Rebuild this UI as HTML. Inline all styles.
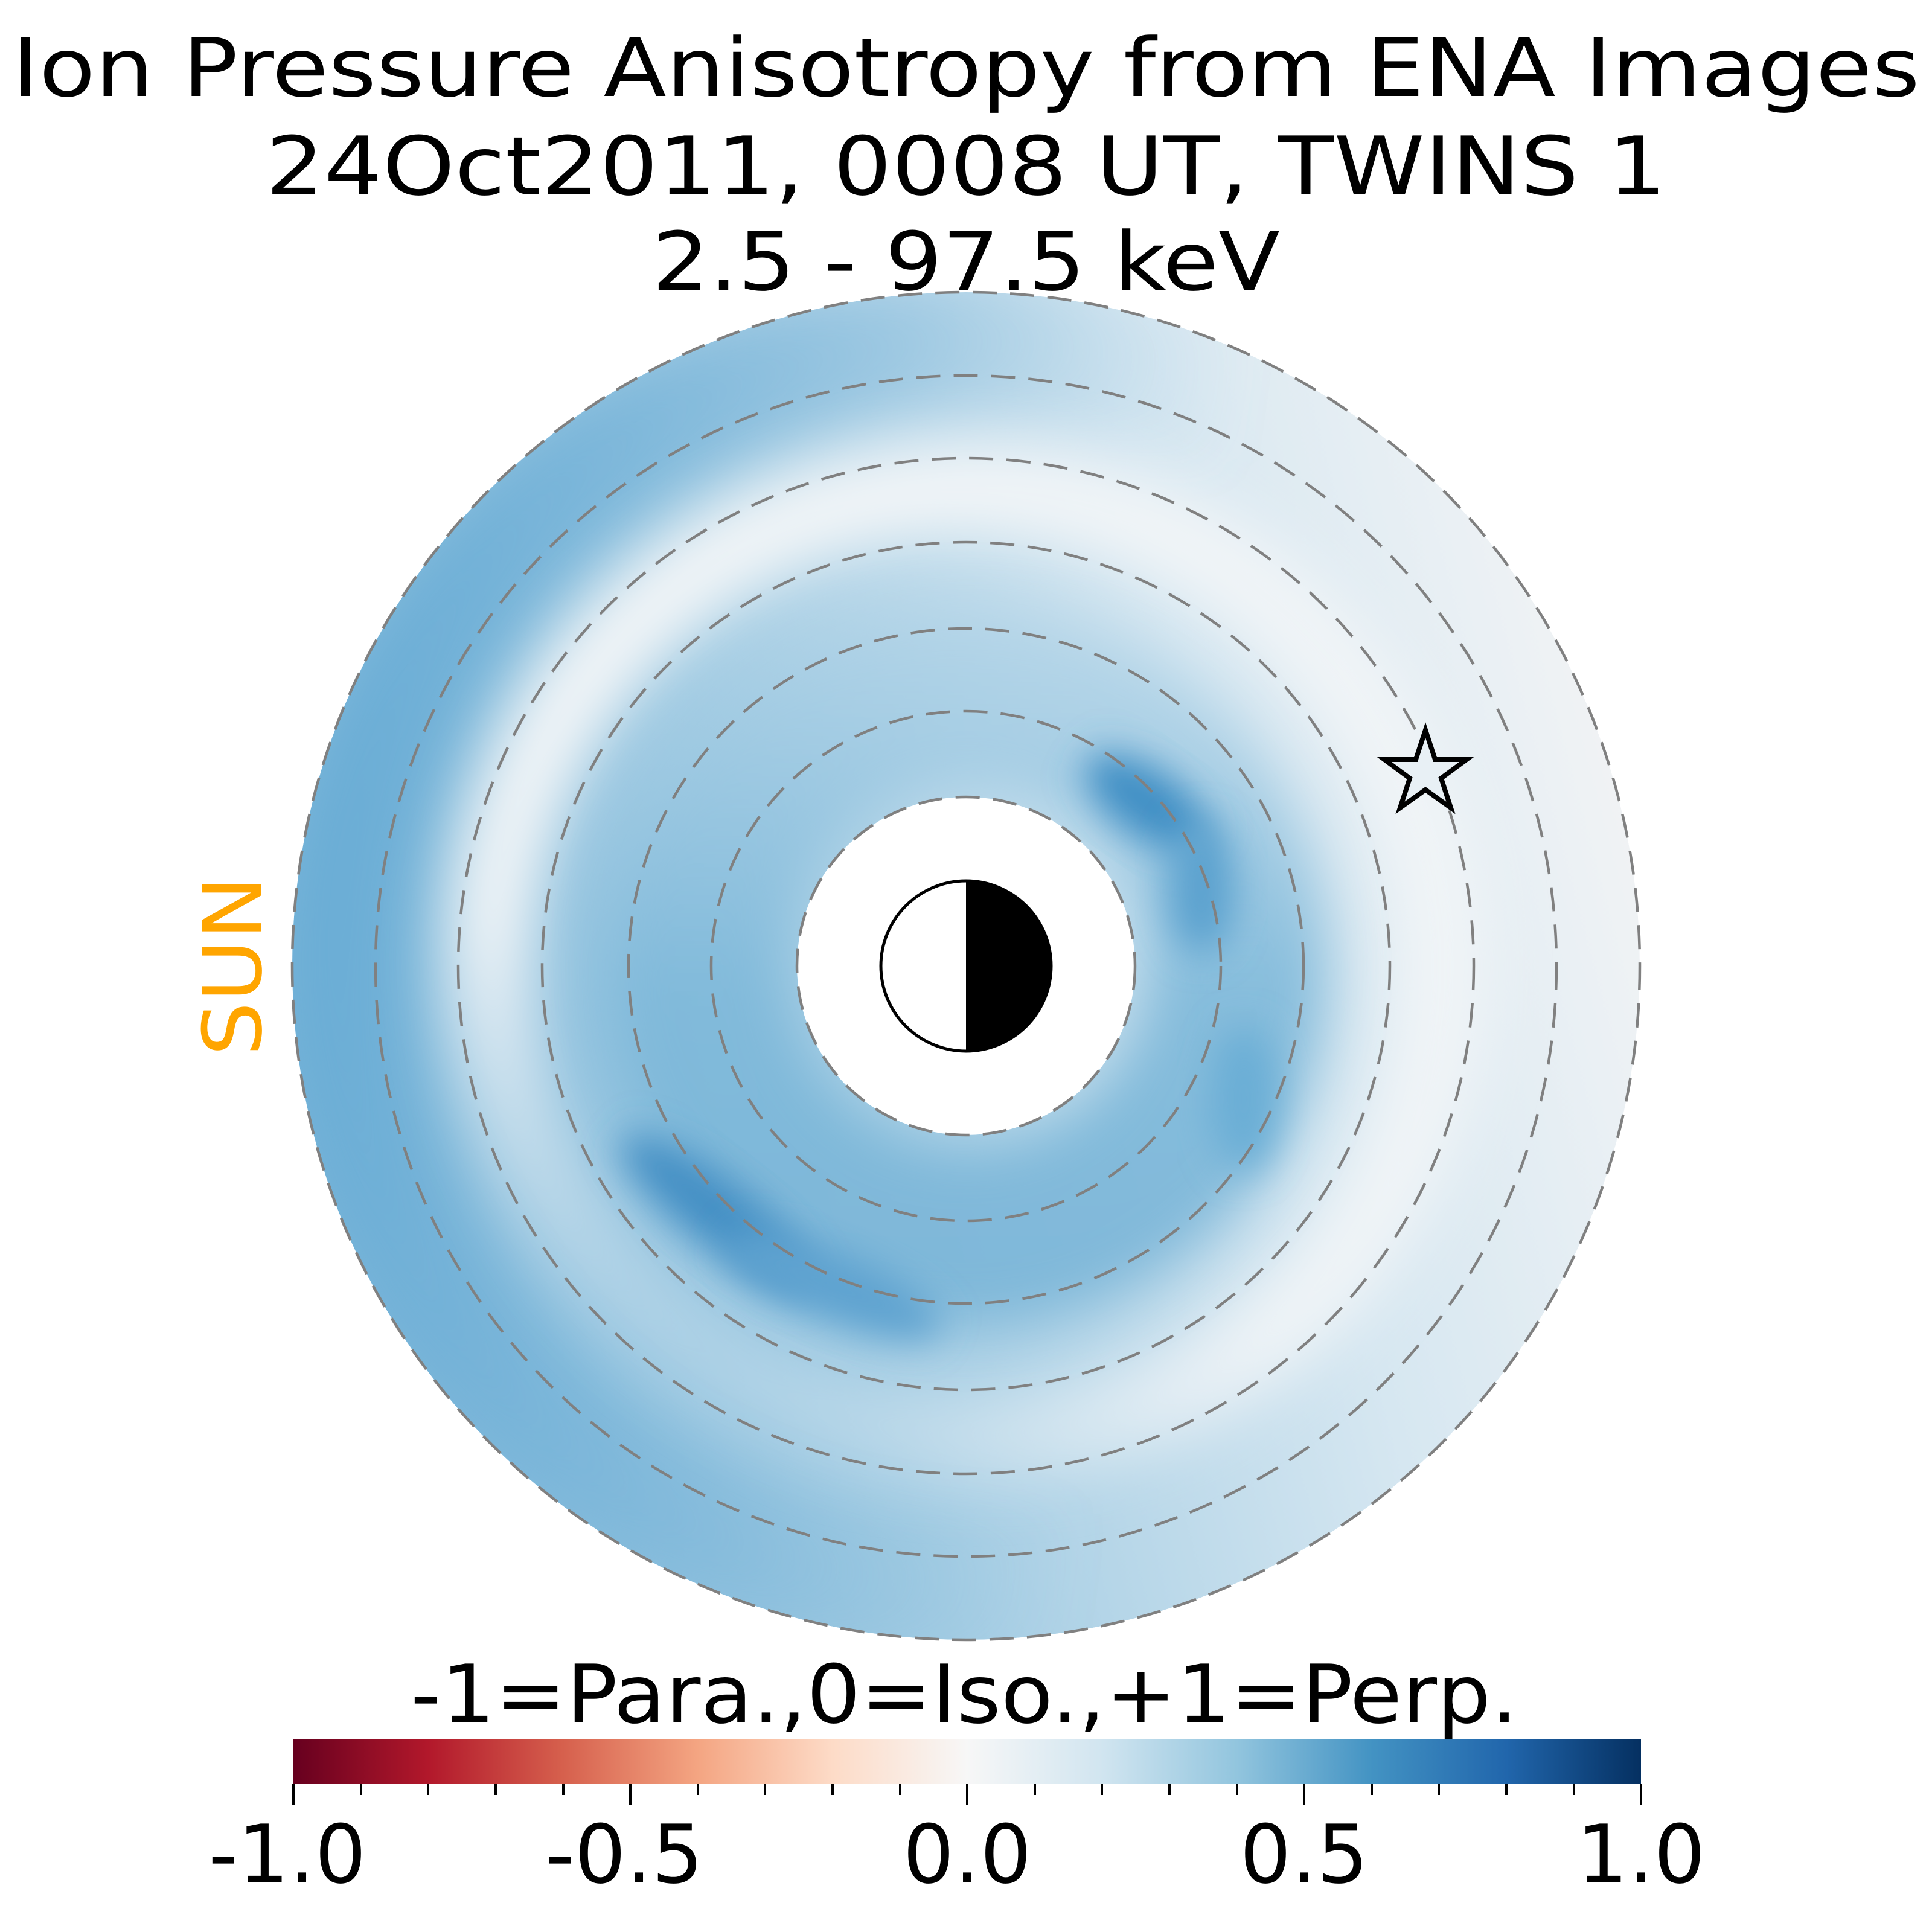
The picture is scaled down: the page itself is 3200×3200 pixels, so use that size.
<!DOCTYPE html>
<html><head><meta charset="utf-8"><style>html,body{margin:0;padding:0;background:#fff}svg{display:block}</style></head>
<body>
<svg width="3200" height="3200" viewBox="0 0 3200 3200" xmlns="http://www.w3.org/2000/svg" font-family="'DejaVu Sans','Liberation Sans',sans-serif">
<defs>
<linearGradient id="base" gradientUnits="userSpaceOnUse" x1="500" y1="1900" x2="2750" y2="1300">
<stop offset="0" stop-color="#7db7d9"/><stop offset="0.35" stop-color="#a3cce3"/><stop offset="0.7" stop-color="#d6e7f1"/><stop offset="1" stop-color="#f3f4f5"/>
</linearGradient>
<linearGradient id="outerG" gradientUnits="userSpaceOnUse" x1="500" y1="1500" x2="1900" y2="1700">
<stop offset="0" stop-color="#68acd5" stop-opacity="0.95"/><stop offset="0.6" stop-color="#7ab5d9" stop-opacity="0.5"/><stop offset="1" stop-color="#8ec1de" stop-opacity="0"/>
</linearGradient>
<linearGradient id="lightG" gradientUnits="userSpaceOnUse" x1="1000" y1="2350" x2="1500" y2="1400">
<stop offset="0" stop-color="#f0f4f7" stop-opacity="0"/><stop offset="0.6" stop-color="#f0f4f7" stop-opacity="0.95"/><stop offset="1" stop-color="#f0f4f7" stop-opacity="1"/>
</linearGradient>
<linearGradient id="innerG" gradientUnits="userSpaceOnUse" x1="1600" y1="1050" x2="1600" y2="2200">
<stop offset="0" stop-color="#a9cfe5" stop-opacity="0.6"/><stop offset="0.5" stop-color="#7fb9da" stop-opacity="0.9"/><stop offset="1" stop-color="#79b5d8" stop-opacity="0.9"/>
</linearGradient>
<linearGradient id="cb" x1="0" x2="1" y1="0" y2="0">
<stop offset="0" stop-color="#67001f"/><stop offset="0.1" stop-color="#b2182b"/><stop offset="0.2" stop-color="#d6604d"/><stop offset="0.3" stop-color="#f4a582"/><stop offset="0.4" stop-color="#fddbc7"/><stop offset="0.5" stop-color="#f7f7f7"/><stop offset="0.6" stop-color="#d1e5f0"/><stop offset="0.7" stop-color="#92c5de"/><stop offset="0.8" stop-color="#4393c3"/><stop offset="0.9" stop-color="#2166ac"/><stop offset="1" stop-color="#053061"/>
</linearGradient>
<filter id="bl" x="-50%" y="-50%" width="200%" height="200%"><feGaussianBlur stdDeviation="45"/></filter>
<filter id="bl2" x="-50%" y="-50%" width="200%" height="200%"><feGaussianBlur stdDeviation="30"/></filter>
<mask id="ring"><rect width="3200" height="3200" fill="#000"/><circle cx="1600" cy="1600" r="1116" fill="#fff"/><circle cx="1600" cy="1600" r="280" fill="#000"/></mask>
</defs>
<g mask="url(#ring)">
<circle cx="1600" cy="1600" r="1116" fill="url(#base)"/>
<circle cx="1600" cy="1600" r="1030" fill="none" stroke="url(#outerG)" stroke-width="220" filter="url(#bl)"/>
<circle cx="1600" cy="1600" r="790" fill="none" stroke="url(#lightG)" stroke-width="150" filter="url(#bl)"/>
<circle cx="1600" cy="1600" r="450" fill="none" stroke="url(#innerG)" stroke-width="300" filter="url(#bl)"/>
<ellipse cx="1900" cy="1330" rx="120" ry="55" fill="#3f8fc5" transform="rotate(35 1900 1330)" filter="url(#bl2)"/>
<ellipse cx="1990" cy="1470" rx="55" ry="110" fill="#5ba2cf" filter="url(#bl2)"/>
<ellipse cx="1190" cy="2010" rx="200" ry="55" fill="#4590c5" transform="rotate(38 1190 2010)" filter="url(#bl2)"/>
<ellipse cx="1380" cy="2130" rx="190" ry="55" fill="#5fa3d0" transform="rotate(22 1380 2130)" filter="url(#bl2)"/>
<ellipse cx="2060" cy="1820" rx="55" ry="120" fill="#6aaed6" filter="url(#bl2)"/>
</g>
<g fill="none" stroke="#808080" stroke-width="4.5" stroke-dasharray="40 22">
<circle cx="1600" cy="1600" r="280"/><circle cx="1600" cy="1600" r="422"/><circle cx="1600" cy="1600" r="559"/><circle cx="1600" cy="1600" r="702"/><circle cx="1600" cy="1600" r="841"/><circle cx="1600" cy="1600" r="978"/><circle cx="1600" cy="1600" r="1116"/>
</g>
<circle cx="1600" cy="1600" r="141" fill="#fff" stroke="#000" stroke-width="5"/>
<path d="M1600 1459 A141 141 0 0 1 1600 1741 Z" fill="#000"/>
<polygon fill="#e8f0f5" stroke="#000" stroke-width="8" points="2361,1209 2377,1258 2429,1258 2387,1289 2403,1338 2361,1308 2319,1338 2335,1289 2293,1258 2345,1258"/>
<text x="1600" y="159" font-size="134" text-anchor="middle" textLength="3160" lengthAdjust="spacingAndGlyphs">Ion Pressure Anisotropy from  ENA Images</text>
<text x="1600" y="322" font-size="134" text-anchor="middle" textLength="2320" lengthAdjust="spacingAndGlyphs">24Oct2011, 0008 UT,  TWINS 1</text>
<text x="1600" y="480" font-size="134" text-anchor="middle" textLength="1040" lengthAdjust="spacingAndGlyphs">2.5 - 97.5 keV</text>
<text transform="translate(432 1600) rotate(-90)" font-size="134" fill="#ffa500" text-anchor="middle" textLength="298" lengthAdjust="spacingAndGlyphs">SUN</text>
<text x="1597" y="2853" font-size="134" text-anchor="middle" textLength="1834" lengthAdjust="spacingAndGlyphs">-1=Para.,0=Iso.,+1=Perp.</text>
<rect x="486" y="2880" width="2232" height="75" fill="url(#cb)"/>
<g stroke="#000" stroke-width="4">
<line x1="486" y1="2955" x2="486" y2="2990"/><line x1="1044" y1="2955" x2="1044" y2="2990"/><line x1="1602" y1="2955" x2="1602" y2="2990"/><line x1="2160" y1="2955" x2="2160" y2="2990"/><line x1="2718" y1="2955" x2="2718" y2="2990"/>
<line x1="598" y1="2955" x2="598" y2="2973"/><line x1="709" y1="2955" x2="709" y2="2973"/><line x1="821" y1="2955" x2="821" y2="2973"/><line x1="933" y1="2955" x2="933" y2="2973"/>
<line x1="1156" y1="2955" x2="1156" y2="2973"/><line x1="1267" y1="2955" x2="1267" y2="2973"/><line x1="1379" y1="2955" x2="1379" y2="2973"/><line x1="1491" y1="2955" x2="1491" y2="2973"/>
<line x1="1714" y1="2955" x2="1714" y2="2973"/><line x1="1825" y1="2955" x2="1825" y2="2973"/><line x1="1937" y1="2955" x2="1937" y2="2973"/><line x1="2049" y1="2955" x2="2049" y2="2973"/>
<line x1="2272" y1="2955" x2="2272" y2="2973"/><line x1="2383" y1="2955" x2="2383" y2="2973"/><line x1="2495" y1="2955" x2="2495" y2="2973"/><line x1="2607" y1="2955" x2="2607" y2="2973"/>
</g>
<g font-size="134" text-anchor="middle">
<text x="476" y="3118">-1.0</text><text x="1034" y="3118">-0.5</text><text x="1602" y="3118">0.0</text><text x="2160" y="3118">0.5</text><text x="2718" y="3118">1.0</text>
</g>
</svg>
</body></html>
